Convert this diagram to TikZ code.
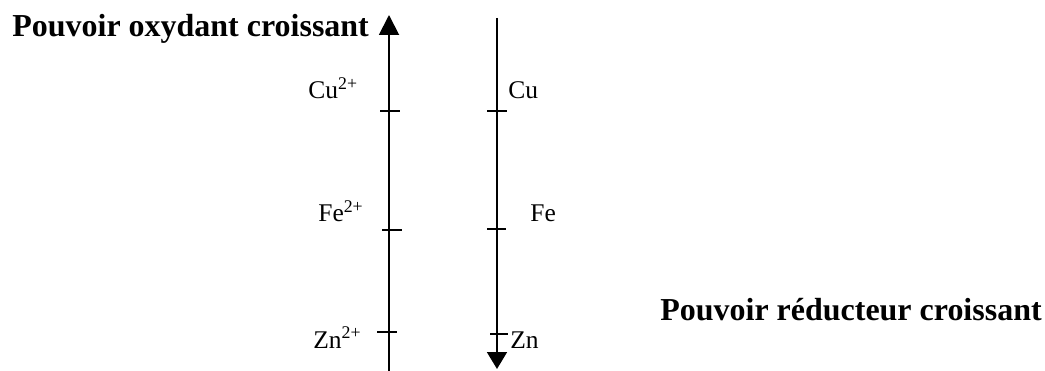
\documentclass[tikz,border=0pt]{standalone}
\usepackage{fontspec}
\setmainfont{Liberation Serif}
\usetikzlibrary{arrows.meta,positioning}

\begin{document}
\begin{tikzpicture}[
  x=0.02cm, y=-0.02cm,
  titre/.style={font=\fontsize{18.2}{21}\selectfont\bfseries, inner sep=0pt, anchor=base west},
  espece/.style={font=\fontsize{14.5}{17}\selectfont, inner sep=0pt, anchor=base west},
  axe/.style={line width=1.1pt},
  trait/.style={line width=0.85pt}
]
\useasboundingbox (0,0) rectangle (1045,371);
% axes
\coordinate (oxbas)  at (389,371);
\coordinate (oxhaut) at (389,15);
\coordinate (redhaut) at (497,18);
\coordinate (redbas)  at (497,369);
\draw[axe, -{Triangle[length=4mm, width=4mm]}] (oxbas) -- (oxhaut);
\draw[axe, -{Triangle[length=3.4mm, width=4mm]}] (redhaut) -- (redbas);
% graduations
\foreach \xa/\xb/\y in {380/400/111, 382/402/230, 377/397/332,
                         487/507/111, 487/506/229, 490/508/334}
  \draw[trait] (\xa,\y) -- (\xb,\y);
% titres
\node[titre] (ox)  at (12,37)   {Pouvoir oxydant croissant};
\node[titre] (red) at (660,320) {Pouvoir réducteur croissant};
% couples
\node[espece] (cuii) at (308,99)  {Cu\textsuperscript{2+}};
\node[espece] (feii) at (318,222) {Fe\textsuperscript{2+}};
\node[espece] (znii) at (313,348) {Zn\textsuperscript{2+}};
\node[espece] (cu) at (508,99)  {Cu};
\node[espece] (fe) at (530,222) {Fe};
\node[espece] (zn) at (510,348) {Zn};
\end{tikzpicture}
\end{document}
